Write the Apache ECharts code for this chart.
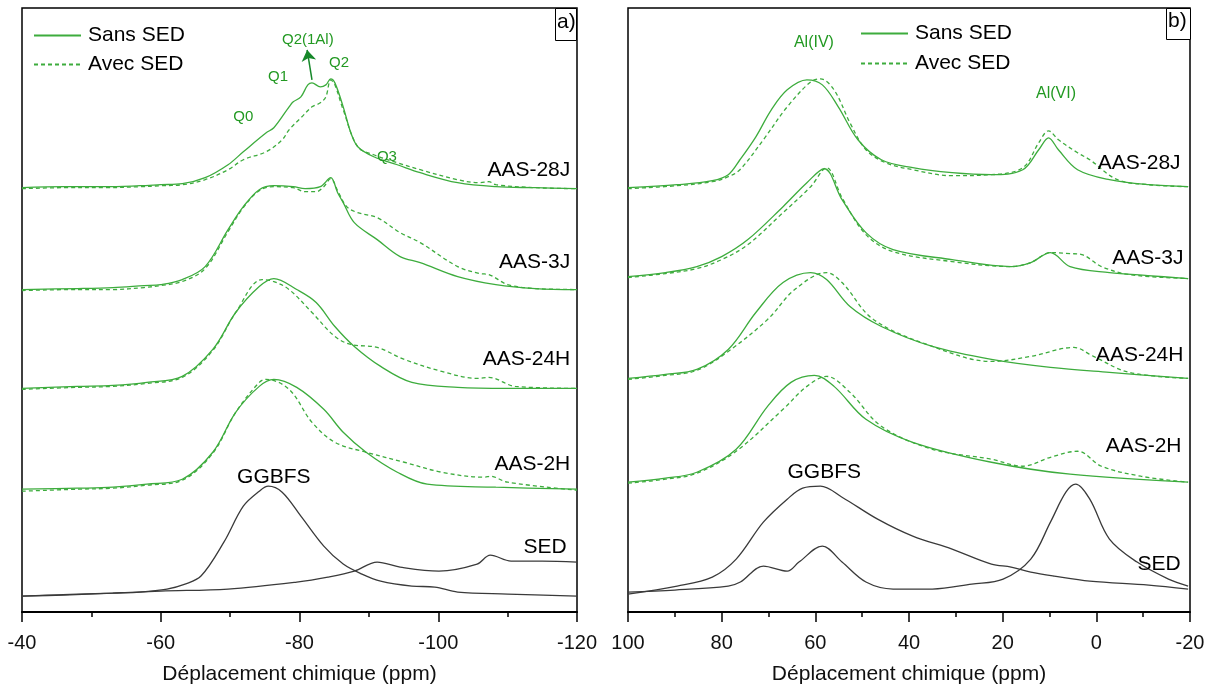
<!DOCTYPE html>
<html>
<head>
<meta charset="utf-8">
<script src="https://cdn.jsdelivr.net/npm/echarts@6/dist/echarts.min.js"></script>
<style>html,body{margin:0;padding:0;background:#fff}#c{width:1217px;height:690px}</style>
</head>
<body>
<div id="c"></div>
<script>
// ---------- Panel a) 29Si (ppm, intensity in arbitrary stacked units) ----------
const si28J_sans = [[-40,425],[-46,426],[-52,426],[-57,427],[-60,428],[-63.1,429],[-66.4,435],[-69.7,448],[-71.9,461],[-75.2,480],[-76.3,485],[-78.5,506],[-79.1,511],[-80.2,516],[-81.2,528],[-81.8,530],[-83.0,526],[-83.8,528],[-84.5,534],[-85.1,530],[-86.3,506],[-87.4,480],[-88.4,466],[-90.7,456],[-94.1,448],[-97.4,440],[-102.8,430],[-108.3,426],[-114,425],[-120,424]];
const si28J_avec = [[-40,424],[-46,425],[-52,425],[-57,426],[-60,427],[-63.1,428],[-66.4,433],[-69.7,443],[-71.9,453],[-75.2,461],[-77.5,473],[-78.5,483],[-80.2,495],[-81.8,506],[-83.0,510],[-83.8,516],[-84.5,533],[-85.1,528],[-86.3,503],[-88.4,466],[-90.7,458],[-94.1,450],[-97.4,443],[-102.8,433],[-106,430],[-107.3,431],[-108.3,428],[-114,425],[-120,424]];
const si3J_sans = [[-40,323],[-48,324],[-53.1,325],[-57.6,327],[-60,328],[-63.1,333],[-66.4,346],[-69.7,383],[-71.9,406],[-74.2,423],[-76.3,427],[-79.1,426],[-80.8,424],[-83.0,426],[-84.5,435],[-85.5,420],[-86.3,410],[-87.9,390],[-91.2,373],[-94.5,356],[-97.4,350],[-102.8,336],[-108.3,328],[-114,324],[-120,323]];
const si3J_avec = [[-40,322],[-48,323],[-53.1,323],[-57.6,325],[-60,327],[-63.1,331],[-66.4,344],[-69.7,381],[-71.9,405],[-74.2,422],[-76.3,426],[-79.1,425],[-80.8,421],[-82.4,421],[-83.5,426],[-84.5,434],[-85.5,422],[-86.8,406],[-88.4,400],[-91.2,395],[-94.5,380],[-97.4,370],[-102.8,346],[-106,339],[-107.3,338],[-110,328],[-114,324],[-120,323]];
const si24H_sans = [[-40,224],[-48,226],[-53.1,227],[-58,230],[-63.1,236],[-67.5,263],[-70.8,300],[-74.2,326],[-76.3,334],[-79.6,323],[-82.4,310],[-85.1,286],[-87.9,266],[-91.7,246],[-96.2,230],[-102.8,225],[-110,224],[-120,224]];
const si24H_avec = [[-40,223],[-48,225],[-53.1,226],[-58,229],[-63.1,235],[-67.5,262],[-70.8,300],[-74.6,333],[-76.3,331],[-78.5,323],[-81.8,300],[-85.1,276],[-87.4,268],[-91.2,265],[-95.1,253],[-100.5,241],[-105.6,234],[-107.3,235],[-111.1,226],[-120,224]];
const si2H_sans = [[-40,123],[-48,124],[-53.1,125],[-58,128],[-63.1,133],[-67.5,160],[-70.8,200],[-74.2,226],[-76.3,233],[-79.6,225],[-83.5,203],[-86.3,180],[-89.6,160],[-94.1,140],[-98.4,128],[-108.3,125],[-120,123]];
const si2H_avec = [[-40,121],[-48,123],[-53.1,124],[-58,127],[-63.1,132],[-67.5,159],[-70.8,200],[-74.2,230],[-75.2,233],[-78.5,223],[-81.8,190],[-85.1,170],[-89.6,160],[-95.1,150],[-100.5,140],[-106.7,135],[-107.5,136],[-110,130],[-120,122]];
const siGGBFS = [[-40,16],[-46,17],[-53.1,19],[-57,20],[-60.9,23],[-63.5,28],[-65.8,36],[-69.1,70],[-71.9,106],[-74.2,121],[-75.5,126],[-77.5,120],[-80.2,96],[-83.5,66],[-86.3,48],[-89.0,38],[-91.7,31],[-96.2,26],[-99.5,25],[-102.8,20],[-110,18],[-120,16]];
const siSED = [[-40,16],[-48,18],[-53.1,19],[-60,21],[-69.7,23],[-79.6,30],[-84.1,35],[-87.9,41],[-91.2,50],[-94.5,45],[-100.1,41],[-105.6,48],[-107.5,57],[-110.5,51],[-115,51],[-120,50]];

// ---------- Panel b) 27Al ----------
const al28J_sans = [[100,425],[89.5,428],[82,432],[78.6,438],[76.1,453],[72.7,476],[69.4,503],[66.0,523],[61.8,533],[58.5,528],[55.1,506],[50.9,473],[45.9,453],[39.2,445],[30.8,440],[22.4,438],[15.7,443],[12.3,463],[10.2,475],[8.1,463],[4.0,443],[-2.8,433],[-11.2,428],[-19.6,426]];
const al28J_avec = [[100,424],[89.5,427],[82,431],[78.6,436],[76.1,443],[71.1,473],[66.0,506],[61.0,531],[58.9,534],[56.0,523],[52.6,490],[49.2,463],[45,450],[39.2,443],[30.8,437],[22.4,438],[15.7,445],[12.3,470],[10.2,482],[8.1,473],[4,460],[1.4,453],[-4.5,433],[-11.2,428],[-19.6,426]];
const al3J_sans = [[100,336],[92,340],[85.3,346],[80,356],[74.4,373],[66.9,406],[61.8,430],[58.1,444],[54.3,413],[49.2,380],[43.4,363],[30.8,353],[18.2,346],[14.0,350],[9.8,360],[5.6,346],[-2.8,340],[-11,337],[-19.6,334]];
const al3J_avec = [[100,335],[92,339],[85.3,344],[80,353],[74.4,368],[66.9,400],[61.0,426],[57.6,445],[54.3,415],[49.2,378],[43.4,361],[30.8,351],[18.2,346],[14.0,350],[9.8,360],[5.6,359],[3.1,358],[-1.1,346],[-7.0,338],[-19.6,334]];
const al24H_sans = [[100,234],[92,238],[85.3,243],[78.6,263],[72.7,300],[66.9,330],[61.0,340],[57.6,333],[52.6,306],[45.9,286],[35.0,266],[22.4,253],[9.8,245],[-2.8,240],[-19.6,234]];
const al24H_avec = [[100,233],[92,237],[85.3,242],[78.6,261],[70.2,293],[64.4,323],[57.6,340],[54.3,330],[47.6,293],[35.0,266],[22.4,251],[14.0,256],[4.8,265],[0.6,256],[-7.0,240],[-19.6,234]];
const al2H_sans = [[100,130],[92,134],[85.3,140],[76.9,163],[70.2,206],[65.2,230],[60.2,237],[56.0,226],[49.2,193],[39.2,170],[22.4,150],[5.6,138],[-19.6,130]];
const al2H_avec = [[100,129],[92,133],[85.3,139],[76.9,161],[66.9,203],[61.8,226],[57.6,236],[52.6,220],[45.9,186],[35.0,163],[22.4,153],[15.7,146],[9.8,155],[4.0,161],[-1.1,146],[-9.5,136],[-19.6,130]];
const alGGBFS = [[100,18],[89.5,26],[82,35],[76.9,53],[71.1,90],[66,113],[62.7,124],[58.9,126],[54.3,115],[46.7,93],[39.2,76],[30.8,63],[22.4,48],[18.2,45],[14,40],[9,36],[1.4,31],[-11.2,27],[-19.6,23]];
const alSED = [[100,20],[90,22],[78.6,26],[76,30],[71.1,46],[66,41],[63.5,50],[58.5,66],[54.3,50],[49.2,30],[43.4,23],[35,23],[26.6,28],[19.9,33],[14,53],[9.8,90],[6.5,120],[4.4,128],[1.4,113],[-2.8,73],[-8.7,50],[-15.4,33],[-19.6,26]];

// ---------- axis ticks ----------
const ticksA = [-40, -60, -80, -100, -120];
const ticksB = [100, 80, 60, 40, 20, 0, -20];

// ---------- text annotations (data coords) ----------
const sampleLabelsA = [[-119.1,443,'AAS-28J'],[-119.1,350,'AAS-3J'],[-119.1,253,'AAS-24H'],[-119.1,148,'AAS-2H'],[-118.6,65,'SED']];
const centerLabelsA = [[-76.3,135,'GGBFS']];
const peakLabelsA = [[-71.9,496,'Q0'],[-76.9,536,'Q1'],[-81.2,573,'Q2(1Al)'],[-85.7,550,'Q2'],[-92.6,456,'Q3']];
const arrowA = [[-81.8,533],[-81.1,563]];
const sampleLabelsB = [[-18.1,450,'AAS-28J'],[-18.7,354,'AAS-3J'],[-18.7,257,'AAS-24H'],[-18.3,166,'AAS-2H'],[-18.1,48,'SED']];
const centerLabelsB = [[58.1,140,'GGBFS']];
const peakLabelsB = [[60.3,570,'Al(IV)'],[8.6,519,'Al(VI)']];

const GREEN = '#3dac3d';
const GREEN_TXT = '#229922';
const DARK = '#3a3a3a';
const FONT = 'Liberation Sans, Arial, sans-serif';

function curve(name, data, idx, dashed, color) {
  return {
    type: 'line', name: name, data: data, xAxisIndex: idx, yAxisIndex: idx,
    symbol: 'none', smooth: 0.35, silent: true,
    lineStyle: { color: color, width: 1.3, type: dashed ? [4, 3] : 'solid' },
    itemStyle: { color: color }
  };
}
function labels(data, idx, pos, color, size) {
  return {
    type: 'scatter', xAxisIndex: idx, yAxisIndex: idx, silent: true, z: 5,
    symbolSize: 1, itemStyle: { color: 'rgba(0,0,0,0)', opacity: 1 },
    emphasis: { disabled: true },
    data: data.map(d => ({ value: [d[0], d[1]], name: d[2] })),
    label: { show: true, position: pos, distance: 0, formatter: p => p.name, opacity: 1,
      color: color, fontSize: size, fontFamily: FONT, textBorderWidth: 0 }
  };
}

const series = [
  curve('Sans SED', si28J_sans, 0, false, GREEN), curve('Avec SED', si28J_avec, 0, true, GREEN),
  curve('Sans SED', si3J_sans, 0, false, GREEN), curve('Avec SED', si3J_avec, 0, true, GREEN),
  curve('Sans SED', si24H_sans, 0, false, GREEN), curve('Avec SED', si24H_avec, 0, true, GREEN),
  curve('Sans SED', si2H_sans, 0, false, GREEN), curve('Avec SED', si2H_avec, 0, true, GREEN),
  curve('GGBFS', siGGBFS, 0, false, DARK), curve('SED', siSED, 0, false, DARK),
  curve('Sans SED', al28J_sans, 1, false, GREEN), curve('Avec SED', al28J_avec, 1, true, GREEN),
  curve('Sans SED', al3J_sans, 1, false, GREEN), curve('Avec SED', al3J_avec, 1, true, GREEN),
  curve('Sans SED', al24H_sans, 1, false, GREEN), curve('Avec SED', al24H_avec, 1, true, GREEN),
  curve('Sans SED', al2H_sans, 1, false, GREEN), curve('Avec SED', al2H_avec, 1, true, GREEN),
  curve('GGBFS', alGGBFS, 1, false, DARK), curve('SED', alSED, 1, false, DARK),
  labels(sampleLabelsA, 0, 'left', '#000', 21),
  labels(centerLabelsA, 0, 'inside', '#000', 21),
  labels(peakLabelsA, 0, 'inside', GREEN_TXT, 15),
  labels(sampleLabelsB, 1, 'left', '#000', 21),
  labels(centerLabelsB, 1, 'inside', '#000', 21),
  labels(peakLabelsB, 1, 'inside', GREEN_TXT, 16),
  {
    type: 'lines', coordinateSystem: 'cartesian2d', xAxisIndex: 0, yAxisIndex: 0, silent: true,
    symbol: ['none', 'arrow'], symbolSize: [0, 11],
    lineStyle: { color: '#16882a', width: 1.5, opacity: 1, curveness: 0 },
    data: [{ coords: arrowA }]
  }
];

function xAxis(idx, min, max, ticks) {
  return {
    type: 'value', gridIndex: idx, min: min, max: max, interval: 20, inverse: true,
    name: 'Déplacement chimique (ppm)', nameLocation: 'middle', nameGap: 52,
    nameTextStyle: { fontSize: 21, color: '#111', fontFamily: FONT },
    axisLine: { show: true, onZero: false, lineStyle: { color: '#000', width: 2 } },
    axisTick: { show: true, inside: false, length: 10, lineStyle: { color: '#000', width: 1.5 } },
    minorTick: { show: true, splitNumber: 2, length: 5, lineStyle: { color: '#000', width: 1.5 } },
    splitLine: { show: false },
    axisLabel: { margin: 21, fontSize: 20, color: '#111', fontFamily: FONT,
      formatter: v => ticks.indexOf(v) >= 0 ? String(v) : '' }
  };
}
function yAxis(idx) {
  return { type: 'value', gridIndex: idx, min: 0, max: 605, show: false, splitLine: { show: false } };
}

const option = {
  animation: false,
  backgroundColor: '#fff',
  grid: [
    { left: 22, top: 8, width: 555, height: 605, show: true, borderColor: '#000', borderWidth: 1.5 },
    { left: 628, top: 8, width: 562, height: 605, show: true, borderColor: '#000', borderWidth: 1.5 }
  ],
  xAxis: [xAxis(0, -120, -40, ticksA), xAxis(1, -20, 100, ticksB)],
  yAxis: [yAxis(0), yAxis(1)],
  legend: [
    { data: ['Sans SED', 'Avec SED'], orient: 'vertical', left: 33, top: 25, padding: 0,
      itemWidth: 47, itemHeight: 20, itemGap: 8, selectedMode: false,
      itemStyle: { opacity: 0 },
      textStyle: { fontSize: 21, color: '#000', fontFamily: FONT, padding: [0, 0, 0, 2] } },
    { data: ['Sans SED', 'Avec SED'], orient: 'vertical', left: 860, top: 23, padding: 0,
      itemWidth: 47, itemHeight: 20, itemGap: 9, selectedMode: false,
      itemStyle: { opacity: 0 },
      textStyle: { fontSize: 21, color: '#000', fontFamily: FONT, padding: [0, 0, 0, 2] } }
  ],
  graphic: [
    { type: 'rect', left: 555, top: 8, shape: { width: 21, height: 32 }, style: { fill: '#fff', stroke: '#000', lineWidth: 1 }, z: 100 },
    { type: 'text', left: 557, top: 12, style: { text: 'a)', fontSize: 21, fill: '#000', fontFamily: FONT }, z: 101 },
    { type: 'rect', left: 1166, top: 8, shape: { width: 24, height: 31 }, style: { fill: '#fff', stroke: '#000', lineWidth: 1 }, z: 100 },
    { type: 'text', left: 1168, top: 11, style: { text: 'b)', fontSize: 21, fill: '#000', fontFamily: FONT }, z: 101 }
  ],
  series: series
};

const chart = echarts.init(document.getElementById('c'), null, { renderer: 'canvas' });
chart.setOption(option);
</script>
</body>
</html>
